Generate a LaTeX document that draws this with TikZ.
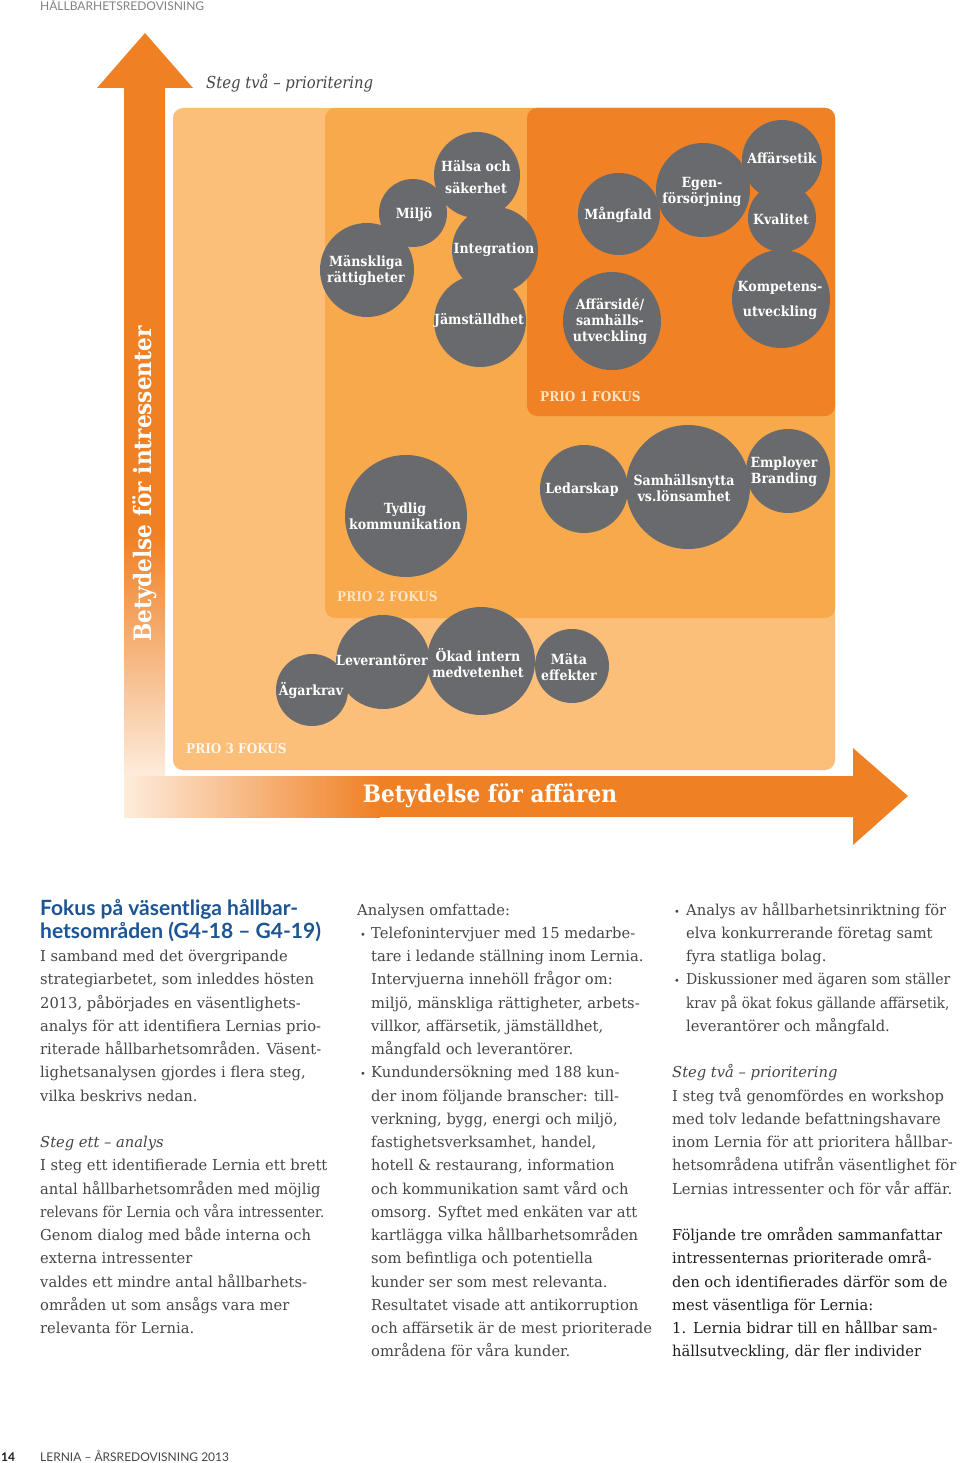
\documentclass[tikz,border=0pt]{standalone}
\usepackage{fontspec}
\setmainfont{DejaVu Serif}
\newfontfamily\slab{DejaVu Serif}[FakeStretch=0.9]
\newfontfamily\bodyfont{DejaVu Serif}[FakeStretch=0.98]
\newfontfamily\bodytight{DejaVu Serif}[FakeStretch=0.9]
\newfontfamily\bodymid{DejaVu Serif}[FakeStretch=0.935]
\newfontfamily\uisans{Lato}
\definecolor{arr}{RGB}{240,128,36}
\definecolor{pone}{RGB}{240,129,37}
\definecolor{ptwo}{RGB}{247,169,76}
\definecolor{pthree}{RGB}{251,191,122}
\definecolor{bub}{RGB}{105,106,110}
\definecolor{cream}{RGB}{254,228,195}
\definecolor{txt}{RGB}{70,70,70}
\definecolor{txtdark}{RGB}{30,30,30}
\definecolor{headblue}{RGB}{28,84,148}
\definecolor{pale}{RGB}{253,236,220}
\definecolor{graytxt}{RGB}{130,130,130}
\tikzset{
  box/.style={rounded corners=10pt},
  bubble/.style={circle, fill=bub, draw=none, inner sep=0pt},
  btext/.style={text=white, font=\slab\bfseries\fontsize{14}{16}\selectfont, align=center, inner sep=0pt},
  prio/.style={text=cream, font=\slab\bfseries\fontsize{13.4}{15}\selectfont, anchor=base west, inner sep=0pt},
  axislabel/.style={text=white, font=\slab\bfseries\fontsize{24}{26}\selectfont, inner sep=0pt},
  body/.style={text=txt, font=\bodyfont\fontsize{15}{18}\selectfont, anchor=base west, inner sep=0pt},
  bodydark/.style={body, text=txtdark},
  bul/.style={text=txt, font=\bodyfont\fontsize{10}{12}\selectfont, anchor=base west, inner sep=0pt},
  heading/.style={text=headblue, font=\uisans\bfseries\fontsize{21}{22}\selectfont, anchor=base west, inner sep=0pt},
  pagehead/.style={text=graytxt, font=\uisans\fontsize{12}{13}\selectfont, anchor=base west, inner sep=0pt},
}
\newcommand{\putlines}[4]{%
  \foreach \tline [count=\k from #2] in {#3} {\node[#4] (L#1x\k) at (#1, {915+23.25*\k}) {\tline};}}
\begin{document}
\begin{tikzpicture}[x=1pt,y=-1pt]
\useasboundingbox (0,0) rectangle (960,1463);
\fill[white] (0,0) rectangle (960,1463);

% page header
\node[pagehead] (phead) at (40,11) {HÅLLBARHETSREDOVISNING};

% priority boxes
\fill[pthree, box] (173,108) rectangle (835,770);
\fill[ptwo, box] (325,108) rectangle (835,618);
\fill[pone, box] (527,108) rectangle (835,416);

% vertical arrow
\fill[arr] (124,536) -- (124,88) -- (97,88) -- (145,33) -- (193,88) -- (165,88) -- (165,536) -- cycle;
\shade[top color=arr, bottom color=pale] (124,535) rectangle (165,776);
% horizontal arrow
\fill[arr] (378,776) -- (853,776) -- (853,748) -- (908,796) -- (853,845) -- (853,817) -- (378,817) -- cycle;
\shade[left color=pale, right color=arr] (124,776) rectangle (380,817);

\node[axislabel, rotate=90] (ylab) at (145,484) {Betydelse för intressenter};
\node[axislabel] (xlab) at (490,796) {Betydelse för affären};

\node[text=txt, font=\slab\itshape\fontsize{16.5}{18}\selectfont, anchor=base west, inner sep=0pt] (steg) at (206,89) {Steg två – prioritering};

% prio labels
\node[prio] (p1) at (540,401) {PRIO 1 FOKUS};
\node[prio] (p2) at (337,601) {PRIO 2 FOKUS};
\node[prio, text=white!85!pthree] (p3) at (186,753) {PRIO 3 FOKUS};

% bubbles
\node[bubble, minimum size=94pt] (mr) at (367,270) {};
\node[bubble, minimum size=68pt] (miljo) at (413,213) {};
\node[bubble, minimum size=86pt] (halsa) at (477,175) {};
\node[bubble, minimum size=86pt] (integ) at (495,250) {};
\node[bubble, minimum size=92pt] (jam) at (480,321) {};
\node[bubble, minimum size=82pt] (mang) at (619,214) {};
\node[bubble, minimum size=94pt] (egen) at (703,190) {};
\node[bubble, minimum size=80pt] (aff) at (782,160) {};
\node[bubble, minimum size=68pt] (kval) at (782,218) {};
\node[bubble, minimum size=98pt] (komp) at (781,299) {};
\node[bubble, minimum size=98pt] (affid) at (612,321) {};
\node[bubble, minimum size=122pt] (tyd) at (406,516) {};
\node[bubble, minimum size=88pt] (led) at (584,489) {};
\node[bubble, minimum size=124pt] (sam) at (688,487) {};
\node[bubble, minimum size=84pt] (emp) at (788,471) {};
\node[bubble, minimum size=72pt] (agar) at (312,690) {};
\node[bubble, minimum size=94pt] (lev) at (383,662) {};
\node[bubble, minimum size=108pt] (okad) at (481,661) {};
\node[bubble, minimum size=74pt] (mata) at (572,666) {};

% bubble labels
\node[btext] (mr-t) at (366,271) {Mänskliga\\rättigheter};
\node[btext] (miljo-t) at (414,215) {Miljö};
\node[btext] (halsa-t) at (476,177) {Hälsa och\\[6pt]säkerhet};
\node[btext] (integ-t) at (494,250) {Integration};
\node[btext] (jam-t) at (479,320) {Jämställdhet};
\node[btext] (mang-t) at (618,215) {Mångfald};
\node[btext] (egen-t) at (702,192) {Egen-\\försörjning};
\node[btext] (aff-t) at (782,158) {Affärsetik};
\node[btext] (kval-t) at (781,219) {Kvalitet};
\node[btext] (komp-t) at (780,300) {Kompetens-\\[9pt]utveckling};
\node[btext] (affid-t) at (610,321) {Affärsidé/\\samhälls-\\utveckling};
\node[btext] (tyd-t) at (405,516) {Tydlig\\kommunikation};
\node[btext] (led-t) at (582,490) {Ledarskap};
\node[btext] (sam-t) at (684,488) {Samhällsnytta\\vs.lönsamhet};
\node[btext] (emp-t) at (784,472) {Employer\\Branding};
\node[btext] (agar-t) at (311,690) {Ägarkrav};
\node[btext] (lev-t) at (382,660) {Leverantörer};
\node[btext] (okad-t) at (478,663) {Ökad intern\\medvetenhet};
\node[btext] (mata-t) at (569,667) {Mäta\\effekter};

% column 1
\putlines{40}{0}{{Fokus på väsentliga hållbar-},{hetsområden (G4-18 – G4-19)}}{heading}
\putlines{40}{2}{{I samband med det övergripande},{strategiarbetet, som inleddes hösten},{2013, påbörjades en väsentlighets-},{analys för att identifiera Lernias prio-},{riterade hållbarhetsområden. Väsent-},{lighetsanalysen gjordes i flera steg,},{vilka beskrivs nedan.}}{body}
\putlines{40}{10}{{\itshape Steg ett – analys},{I steg ett identifierade Lernia ett brett},{antal hållbarhetsområden med möjlig},{\bodytight relevans för Lernia och våra intressenter.},{Genom dialog med både interna och},{externa intressenter},{valdes ett mindre antal hållbarhets-},{områden ut som ansågs vara mer},{relevanta för Lernia.}}{body}

% column 2
\node[body] (c2h) at (357,915) {Analysen omfattade:};
\node[bul] (b1) at (360,938.25) {•};
\node[bul] (b2) at (360,1077.75) {•};
\putlines{371}{1}{{Telefonintervjuer med 15 medarbe-},{tare i ledande ställning inom Lernia.},{Intervjuerna innehöll frågor om:},{miljö, mänskliga rättigheter, arbets-},{villkor, affärsetik, jämställdhet,},{mångfald och leverantörer.},{Kundundersökning med 188 kun-},{der inom följande branscher: till-},{verkning, bygg, energi och miljö,},{fastighetsverksamhet, handel,},{hotell \& restaurang, information},{och kommunikation samt vård och},{omsorg. Syftet med enkäten var att},{kartlägga vilka hållbarhetsområden},{som befintliga och potentiella},{kunder ser som mest relevanta.},{Resultatet visade att antikorruption},{och affärsetik är de mest prioriterade},{områdena för våra kunder.}}{body}

% column 3
\node[bul] (b3) at (674,915) {•};
\node[bul] (b4) at (674,984.75) {•};
\putlines{686}{0}{{Analys av hållbarhetsinriktning för},{elva konkurrerande företag samt},{fyra statliga bolag.},{\bodymid Diskussioner med ägaren som ställer},{\bodytight krav på ökat fokus gällande affärsetik,},{leverantörer och mångfald.}}{body}
\putlines{672}{7}{{\itshape Steg två – prioritering},{I steg två genomfördes en workshop},{med tolv ledande befattningshavare},{inom Lernia för att prioritera hållbar-},{hetsområdena utifrån väsentlighet för},{Lernias intressenter och för vår affär.}}{body}
\putlines{672}{14}{{Följande tre områden sammanfattar},{intressenternas prioriterade områ-},{den och identifierades därför som de},{mest väsentliga för Lernia:}}{bodydark}
\node[bodydark] (num1) at (672,1333.5) {1.};
\putlines{693}{18}{{Lernia bidrar till en hållbar sam-}}{bodydark}
\putlines{672}{19}{{hällsutveckling, där fler individer}}{bodydark}

% footer
\node[pagehead, text=txtdark, font=\uisans\bfseries\fontsize{12}{13}\selectfont] (pnum) at (1,1461) {14};
\node[pagehead, text=txt] (pfoot) at (40,1461) {LERNIA – ÅRSREDOVISNING 2013};
\end{tikzpicture}
\end{document}
